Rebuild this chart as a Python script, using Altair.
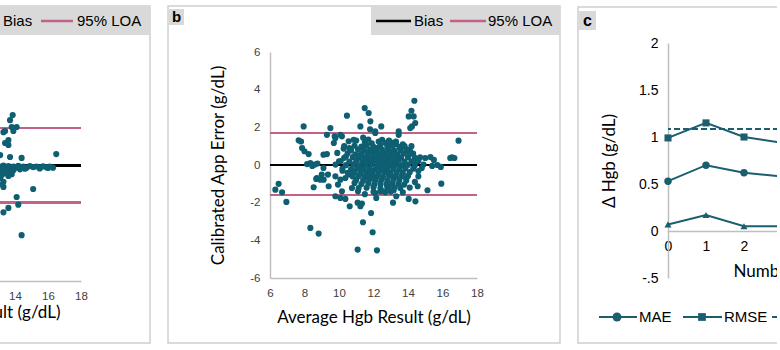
import altair as alt
import pandas as pd

TEAL = "#0f5f73"
LINE_C = "#1b5e6f"
PINK = "#c2628a"
FRAME = "#cfcfcf"
BOXGRAY = "#d9d9d9"
AXISGRAY = "#bfbfbf"

# ---------------- data ----------------
hgb_ticks = [6, 8, 10, 12, 14, 16, 18]
err_ticks = [-6, -4, -2, 0, 2, 4, 6]

# panel a (uncalibrated) : (average Hgb, error)
a_points = [
    (13.86, 2.7), (13.7, 2.43), (13.8, 2.07), (14.1, 2.07), (13.3, 1.8), (13.4, 1.86),
    (13.9, 1.86), (13.6, 1.39), (13.4, 1.23), (13.6, 1.13), (13.1, 0.6), (13.7, 0.5),
    (14.4, 0.45), (16.5, 0.65), (13.3, -1.07), (15.1, -1.18), (14.1, -1.6), (14.2, -2.0),
    (13.6, -2.17), (13.3, -2.4), (14.4, -3.6),
    (12.6, 0.0), (12.8, -0.05), (13.0, 0.02), (13.15, -0.1), (13.3, 0.05), (13.45, -0.08),
    (13.6, 0.02), (13.75, -0.12), (13.9, 0.0), (14.05, -0.06), (14.2, 0.03), (14.35, -0.04),
    (14.5, 0.0), (14.7, -0.07), (14.9, 0.02), (15.1, -0.03), (15.3, 0.0), (15.5, -0.05),
    (15.7, 0.01), (15.9, -0.04), (16.1, 0.0), (16.3, -0.06),
    (13.0, -0.3), (13.2, -0.45), (13.1, -0.6), (13.4, -0.35), (13.6, -0.5), (13.8, -0.4),
    (13.3, -0.8), (13.0, -0.95), (13.5, -0.2), (13.9, -0.2), (14.3, -0.15), (15.5, -0.1),
    (16.0, -0.08), (13.2, -0.15), (13.7, -0.25), (14.6, -0.12),
    (10.5, 0.3), (11.0, -0.5), (9.0, 1.2), (11.5, 0.8), (12.0, -0.3), (12.3, 0.1),
]
a_bias = 0.05
a_loa_upper = 2.0
a_loa_lower = -1.88

# panel b (calibrated) : (average Hgb, error)
b_points = [
    # sparse / outlying points
    (6.31, -1.31), (6.5, -1.0), (6.7, -1.45), (6.95, -1.96),
    (7.66, 1.31), (7.8, 1.25), (7.95, 2.05), (7.86, 0.9), (8.0, 0.73), (8.24, 0.58),
    (8.34, -3.34), (8.82, -3.64),
    (8.15, 0.05), (8.34, 0.1), (8.6, 0.02), (8.45, -0.05), (8.75, 0.08),
    (8.72, -0.69), (8.53, -1.18), (8.68, -0.74), (8.92, -0.78),
    (9.0, -0.51), (9.1, -0.16), (9.1, 0.55), (9.3, 0.58), (9.3, 1.6), (9.5, 1.96),
    (9.7, 1.17), (9.75, 1.52), (9.79, 1.43), (10.08, 1.6),
    (9.4, -1.13), (9.79, -1.66), (9.94, -1.04), (10.08, -1.75), (10.37, -1.8),
    (10.17, -1.4), (10.62, -2.19),
    (9.79, -0.6), (10.08, -0.78), (10.37, -0.69), (9.36, -0.51), (9.11, -0.78),
    (9.9, 0.64), (10.17, 1.52), (10.27, 0.87), (10.46, 2.62), (10.56, 1.26), (10.85, 1.34),
    (10.75, -1.22), (11.14, -1.22), (11.08, -2.0), (11.33, -2.05), (11.24, -2.19),
    (11.39, -3.04), (11.86, -2.55), (11.08, -4.49), (11.95, -3.57), (12.16, -1.75),
    (12.2, -4.53), (13.13, -2.0), (13.32, -1.66), (14.04, -1.8), (14.43, -1.93),
    (14.56, -1.13), (15.13, -1.34), (15.93, -0.99),
    (11.49, 3.02), (11.72, 2.76), (11.82, 2.32), (11.24, 2.05), (11.8, 1.9), (12.1, 1.79),
    (12.1, 1.7), (12.45, 2.05), (12.5, 1.34),
    (13.46, 1.79), (13.46, 1.6), (14.04, 2.58), (14.2, 2.88), (14.37, 3.41), (14.33, 2.58),
    (14.23, 2.05), (14.42, 2.23), (14.13, 1.96),
    (13.94, 0.81), (14.0, 0.72), (14.3, 0.6), (14.13, 0.73),
    (14.7, 0.41), (15.0, 0.37), (15.3, 0.42), (15.5, 0.27), (15.4, -0.05), (15.7, 0.0),
    (15.9, -0.1), (14.6, -0.32), (14.8, -0.16),
    (16.45, 0.37), (16.55, 0.41), (16.69, 0.37), (16.93, 1.29),
    (12.88, -1.13), (13.17, -1.34), (13.55, -1.22), (13.78, -1.04), (12.68, -1.45),
    (12.1, -1.49), (12.4, -1.4),
    # ring around the core
    (10.0, 0.2), (10.2, -0.3), (10.4, 0.45), (10.6, -0.5), (10.3, 1.0), (10.6, 0.9),
    (11.0, 1.3), (11.4, 1.45), (11.7, 1.35), (12.9, 1.3), (13.3, 1.25), (13.7, 1.1),
    (14.2, 1.0), (14.5, 0.2), (14.6, -0.6), (14.4, -0.9), (14.1, -1.2), (10.9, -0.95),
    (11.1, -1.4), (11.5, -1.55), (13.7, -1.45), (13.9, -0.7),
    # dense core
    (11.5, 1.22), (11.9, 1.15), (12.3, 1.25), (12.7, 1.18), (13.0, 1.2), (13.3, 1.12),
    (10.9, 1.02), (11.3, 0.98), (11.6, 1.05), (12.0, 0.96), (12.4, 1.04), (12.8, 0.99),
    (13.1, 1.03), (13.5, 0.97), (13.8, 1.0),
    (10.7, 0.78), (11.1, 0.83), (11.45, 0.79), (11.8, 0.82), (12.15, 0.77), (12.5, 0.81),
    (12.85, 0.84), (13.2, 0.78), (13.55, 0.8), (13.9, 0.83),
    (10.5, 0.62), (10.95, 0.57), (11.3, 0.61), (11.65, 0.59), (12.0, 0.63), (12.35, 0.58),
    (12.7, 0.6), (13.05, 0.62), (13.4, 0.57), (13.75, 0.61), (14.1, 0.59),
    (10.3, 0.38), (10.8, 0.42), (11.15, 0.39), (11.5, 0.41), (11.85, 0.37), (12.2, 0.43),
    (12.55, 0.4), (12.9, 0.38), (13.25, 0.42), (13.6, 0.39), (14.0, 0.41), (14.4, 0.38),
    (10.1, 0.21), (10.6, 0.18), (11.0, 0.22), (11.35, 0.19), (11.7, 0.2), (12.05, 0.23),
    (12.4, 0.17), (12.75, 0.21), (13.1, 0.19), (13.45, 0.22), (13.8, 0.18), (14.2, 0.2),
    (14.6, 0.21),
    (9.8, 0.02), (10.4, -0.01), (10.85, 0.03), (11.2, -0.02), (11.55, 0.01), (11.9, 0.03),
    (12.25, -0.03), (12.6, 0.02), (12.95, -0.01), (13.3, 0.03), (13.65, -0.02), (14.0, 0.01),
    (14.4, -0.01), (14.9, 0.02),
    (10.2, -0.19), (10.7, -0.22), (11.05, -0.18), (11.4, -0.21), (11.75, -0.2), (12.1, -0.23),
    (12.45, -0.17), (12.8, -0.21), (13.15, -0.19), (13.5, -0.22), (13.85, -0.18), (14.3, -0.2),
    (10.5, -0.41), (10.9, -0.38), (11.25, -0.42), (11.6, -0.39), (11.95, -0.4), (12.3, -0.43),
    (12.65, -0.37), (13.0, -0.41), (13.35, -0.39), (13.7, -0.42), (14.1, -0.38),
    (10.8, -0.61), (11.15, -0.58), (11.5, -0.62), (11.85, -0.59), (12.2, -0.6), (12.55, -0.63),
    (12.9, -0.57), (13.25, -0.61), (13.6, -0.6), (14.0, -0.58),
    (11.0, -0.79), (11.4, -0.82), (11.75, -0.78), (12.1, -0.81), (12.45, -0.8), (12.8, -0.83),
    (13.15, -0.77), (13.5, -0.8), (13.9, -0.82),
    (11.3, -1.01), (11.7, -0.98), (12.05, -1.03), (12.4, -0.99), (12.75, -1.02), (13.1, -0.97),
    (13.45, -1.0),
    (11.6, -1.21), (12.0, -1.18), (12.4, -1.23), (12.8, -1.19), (13.2, -1.2),
    (12.0, -1.42), (12.5, -1.38), (13.0, -1.41),
    (11.4, 0.9), (11.75, 0.7), (12.1, 0.5), (12.45, 0.3), (12.8, 0.1), (13.15, -0.1),
    (11.2, 0.5), (11.55, 0.3), (11.9, 0.1), (12.25, -0.1), (12.6, -0.3), (12.95, -0.5),
    (12.2, 0.9), (12.55, 0.7), (12.9, 0.5), (13.25, 0.3), (11.3, -0.3), (11.65, -0.5),
    (12.0, -0.7), (12.35, 0.1), (12.7, 0.3), (13.05, 0.7), (11.85, -0.3), (12.15, 0.3),
]
b_bias = 0.0
b_loa_upper = 1.68
b_loa_lower = -1.6

# panel c
c_number = [0, 1, 2, 3]
c_mae = [0.53, 0.70, 0.62, 0.58]
c_rmse = [0.99, 1.15, 1.00, 0.94]
c_bias = [0.07, 0.17, 0.05, 0.05]
c_reference = 1.085
c_y_ticks = [-0.5, 0, 0.5, 1, 1.5, 2]
c_x_ticks = [0, 1, 2, 3, 4, 5, 6]

# ---------------- helpers ----------------
one = pd.DataFrame({"k": [0]})


def rect(x1, x2, y1, y2, **kw):
    return alt.Chart(one).mark_rect(**kw).encode(
        x=alt.value(x1), x2=alt.value(x2), y=alt.value(y1), y2=alt.value(y2))


def frame(x1, x2, y1, y2):
    return alt.Chart(one).mark_rect(filled=False, color=FRAME, strokeWidth=1.5).encode(
        x=alt.value(x1), x2=alt.value(x2), y=alt.value(y1), y2=alt.value(y2))


def seg(x1, x2, y, color, width):
    return alt.Chart(one).mark_rule(color=color, strokeWidth=width).encode(
        x=alt.value(x1), x2=alt.value(x2), y=alt.value(y))


def txt(x, y, s, size=15, weight="normal", align="left", font="Liberation Sans"):
    return alt.Chart(one).mark_text(align=align, baseline="middle", fontSize=size,
                                    fontWeight=weight, font=font, color="black").encode(
        x=alt.value(x), y=alt.value(y), text=alt.value(s))


def marker(x, y, shape, size):
    return alt.Chart(one).mark_point(shape=shape, filled=True, size=size, opacity=1,
                                     color=LINE_C).encode(x=alt.value(x), y=alt.value(y))


ERR_LABELS = "datum.value < 0 ? '-' + toString(-datum.value) : toString(datum.value)"

# ---------------- panel a ----------------
AW, AH = 198, 229
a_df = pd.DataFrame(a_points, columns=["avg", "err"])
ax_a_x = alt.Axis(values=hgb_ticks, labelFontSize=11.5, labelPadding=9, labelFlush=False,
                  labelOverlap=False,
                  title="Average Hgb Result (g/dL)", titlePadding=3,
                  titleAlign="right", titleX=177, titleAnchor="start")
ax_a_y = alt.Axis(values=err_ticks, labelFontSize=11.5, labelPadding=10,
                  labelOverlap=False, labelExpr=ERR_LABELS,
                  title="Uncalibrated App Error (g/dL)", titlePadding=22)
xa = alt.X("avg:Q", scale=alt.Scale(domain=[6, 18], nice=False), axis=ax_a_x)
ya = alt.Y("err:Q", scale=alt.Scale(domain=[-6, 6], nice=False), axis=ax_a_y)

panel_a = alt.layer(
    frame(-102, 267, -46, 291),
    rect(78, 267, -46, -17, fill=BOXGRAY),
    seg(82, 116, -31, "black", 2.5),
    txt(120, -31, "Bias"),
    seg(158, 190, -31, PINK, 2.5),
    txt(194, -31, "95% LOA"),
    rect(-100, -85, -43, -27, fill=BOXGRAY),
    txt(-92.5, -35, "a", weight="bold", align="center"),
    alt.Chart(a_df).mark_rule(color="black", strokeWidth=2).encode(
        y=alt.Y(datum=a_bias, type="quantitative", axis=ax_a_y)),
    alt.Chart(a_df).mark_rule(color=PINK, strokeWidth=1.5).encode(
        y=alt.Y(datum=a_loa_upper, type="quantitative", axis=ax_a_y)),
    alt.Chart(a_df).mark_rule(color=PINK, strokeWidth=1.5).encode(
        y=alt.Y(datum=a_loa_lower, type="quantitative", axis=ax_a_y)),
    alt.Chart(a_df).mark_circle(size=38, color=TEAL, opacity=1).encode(x=xa, y=ya),
).properties(width=AW, height=AH)

# ---------------- panel b ----------------
BW, BH = 207, 226
b_df = pd.DataFrame(b_points, columns=["avg", "err"])
ax_b_x = alt.Axis(values=hgb_ticks, labelFontSize=11.5, labelPadding=9, labelFlush=False,
                  labelOverlap=False,
                  title="Average Hgb Result (g/dL)", titlePadding=11)
ax_b_y = alt.Axis(values=err_ticks, labelFontSize=11.5, labelPadding=10,
                  labelOverlap=False, labelExpr=ERR_LABELS,
                  title="Calibrated App Error (g/dL)", titlePadding=22)
xb = alt.X("avg:Q", scale=alt.Scale(domain=[6, 18], nice=False), axis=ax_b_x)
yb = alt.Y("err:Q", scale=alt.Scale(domain=[-6, 6], nice=False), axis=ax_b_y)

panel_b = alt.layer(
    frame(-102, 290, -46, 291),
    rect(101, 290, -46, -17, fill=BOXGRAY),
    seg(106, 141, -31, "black", 2.5),
    txt(144, -31, "Bias"),
    seg(180, 216, -31, PINK, 2.5),
    txt(218, -31, "95% LOA"),
    rect(-101, -86, -43, -27, fill=BOXGRAY),
    txt(-93.5, -35, "b", weight="bold", align="center"),
    alt.Chart(b_df).mark_rule(color="black", strokeWidth=2).encode(
        y=alt.Y(datum=b_bias, type="quantitative", axis=ax_b_y)),
    alt.Chart(b_df).mark_rule(color=PINK, strokeWidth=1.5).encode(
        y=alt.Y(datum=b_loa_upper, type="quantitative", axis=ax_b_y)),
    alt.Chart(b_df).mark_rule(color=PINK, strokeWidth=1.5).encode(
        y=alt.Y(datum=b_loa_lower, type="quantitative", axis=ax_b_y)),
    alt.Chart(b_df).mark_circle(size=38, color=TEAL, opacity=1).encode(x=xb, y=yb),
).properties(width=BW, height=BH)

# ---------------- panel c ----------------
CW, CH = 228, 226
c_df = pd.DataFrame({"n": c_number, "MAE": c_mae, "RMSE": c_rmse, "Bias": c_bias})
ax_c_x = alt.Axis(values=c_x_ticks, labelFontSize=14, labelPadding=8, labelFlush=False,
                  labelColor="black", offset=-47, labelOverlap=False,
                  title="Number of Calibration Images", titlePadding=10,
                  titleAlign="left", titleX=65)
ax_c_y = alt.Axis(values=c_y_ticks, labelFontSize=14, labelPadding=10, labelColor="black",
                  labelOverlap=False,
                  labelExpr="datum.value == -0.5 ? '-.5' : toString(datum.value)",
                  title="\u0394 Hgb (g/dL)", titlePadding=20)
c_xscale = alt.Scale(domain=[0, 6], nice=False)
c_yscale = alt.Scale(domain=[-0.5, 2], nice=False, range=[226, -9])

c_layers = [
    frame(-90, 303, -45, 291),
    rect(-89, -72, -41, -22, fill=BOXGRAY),
    txt(-80.5, -31.5, "c", weight="bold", align="center", size=16),
    alt.Chart(c_df).mark_rule(color=LINE_C, strokeWidth=2, strokeDash=[6, 3]).encode(
        y=alt.Y(datum=c_reference, type="quantitative", scale=c_yscale, axis=ax_c_y)),
]
for metric, shape, size in [("MAE", "circle", 55), ("RMSE", "square", 50),
                            ("Bias", "triangle-up", 50)]:
    enc = dict(
        x=alt.X("n:Q", scale=c_xscale, axis=ax_c_x, title="Number of Calibration Images"),
        y=alt.Y(f"{metric}:Q", scale=c_yscale, axis=ax_c_y, title="\u0394 Hgb (g/dL)"),
    )
    c_layers.append(alt.Chart(c_df).mark_line(color=LINE_C, strokeWidth=2).encode(**enc))
    c_layers.append(alt.Chart(c_df).mark_point(shape=shape, filled=True, size=size,
                                               opacity=1, color=LINE_C).encode(**enc))
# legend
c_layers += [
    seg(-69, -31, 265, LINE_C, 2), marker(-51, 265, "circle", 80),
    txt(-29, 265, "MAE"),
    seg(15, 54, 265, LINE_C, 2), marker(34, 265, "square", 60),
    txt(56, 265, "RMSE"),
    seg(104, 142, 265, LINE_C, 2), marker(123, 265, "triangle-up", 60),
    txt(145, 265, "Bias"),
]
panel_c = alt.layer(*c_layers).properties(width=CW, height=CH)

chart = alt.hconcat(panel_a, panel_b, panel_c, spacing=16).properties(
    padding={"left": -220, "top": 5, "right": -195, "bottom": 0},
    background="white",
).configure_view(stroke=None).configure_axis(
    grid=False, ticks=False, tickSize=0, domainColor=AXISGRAY, domainWidth=1.5,
    labelFont="Liberation Sans", labelColor="#404040", labelOverlap=False,
    labelBound=False,
    titleFont="Lato", titleFontSize=17, titleFontWeight="normal", titleColor="black",
)

chart.save("out.html", embed_options={"renderer": "svg", "actions": False})
